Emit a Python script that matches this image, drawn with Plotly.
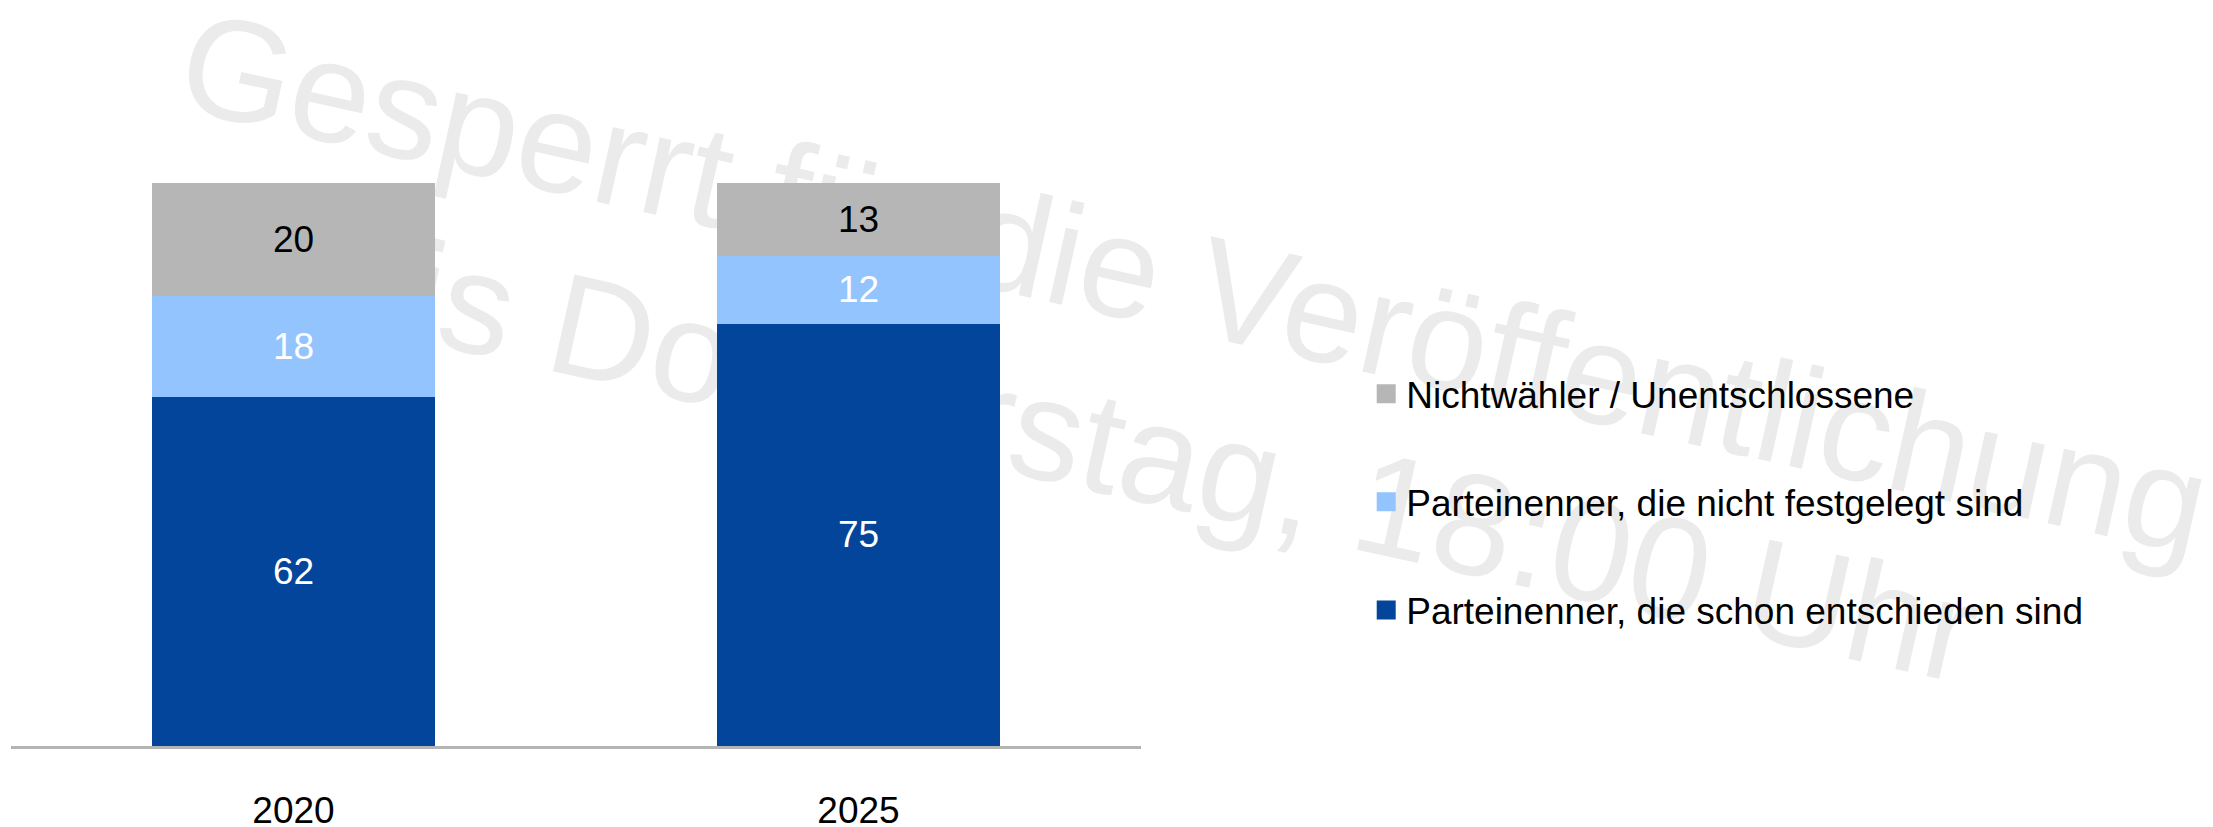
import plotly.graph_objects as go

# Data --
years = ["2020", "2025"]
entschieden = [62, 75]
nicht_festgelegt = [18, 12]
nichtwaehler = [20, 13]

series_names = [
    "Parteinenner, die schon entschieden sind",
    "Parteinenner, die nicht festgelegt sind",
    "Nichtwähler / Unentschlossene",
]
series_colors = ["#02459a", "#94c4fe", "#b6b6b6"]
text_colors = ["white", "white", "black"]

watermark_lines = ["Gesperrt für die Veröffentlichung", "bis Donnerstag, 18:00 Uhr"]

font_family = "Liberation Sans, Arial, sans-serif"

fig = go.Figure()

## Stacked bars, bottom to top
for name, values, color, tcolor in zip(series_names,
                                       [entschieden, nicht_festgelegt, nichtwaehler],
                                       series_colors, text_colors):
    fig.add_bar(x=years, y=values, name=name, marker=dict(color=color, line=dict(width=0)),
                text=values, textposition="inside", insidetextanchor="middle",
                textfont=dict(color=tcolor, size=37, family=font_family),
                showlegend=False, hoverinfo="skip")

## Legend entries (square swatches), top to bottom as in the chart
for i, (name, color) in enumerate(reversed(list(zip(series_names, series_colors)))):
    fig.add_scatter(x=[None], y=[None], mode="markers", name=name, legendgroup=str(i),
                    marker=dict(symbol="square", size=16, color=color, line=dict(width=3, color=color)))

## Watermark, drawn underneath the bars
wm_pos = [(1.0498, 0.846), (1.0142, 0.543)]
for line, (px_, py_) in zip(watermark_lines, wm_pos):
    fig.add_shape(type="rect", xref="paper", yref="paper",
                  x0=px_ - 0.001, x1=px_ + 0.001, y0=py_ - 0.001, y1=py_ + 0.001,
                  line=dict(width=0), fillcolor="rgba(0,0,0,0)", layer="below",
                  label=dict(text=line, textangle=12.5, textposition="middle center",
                             font=dict(size=144, color="#ebebeb", family=font_family)))

fig.update_layout(
    template="none",
    width=2205, height=819,
    barmode="stack", bargap=0.5,
    margin=dict(l=3, r=1072, t=175, b=81, autoexpand=False),
    paper_bgcolor="white", plot_bgcolor="rgba(0,0,0,0)",
    font=dict(family=font_family, size=37, color="black"),
    legend=dict(x=1.1993, xanchor="left", y=0.433, yanchor="middle",
                traceorder="grouped", tracegroupgap=57, bgcolor="rgba(0,0,0,0)",
                font=dict(size=37, color="black")),
    xaxis=dict(type="category", showline=True, linecolor="#b4b4b4", linewidth=3,
               showgrid=False, zeroline=False, ticks="", ticklabelstandoff=30, automargin=False,
               tickfont=dict(size=37, color="black")),
    yaxis=dict(range=[0, 100], visible=False, showgrid=False, zeroline=False, automargin=False),
)

fig.write_html("out.html")
